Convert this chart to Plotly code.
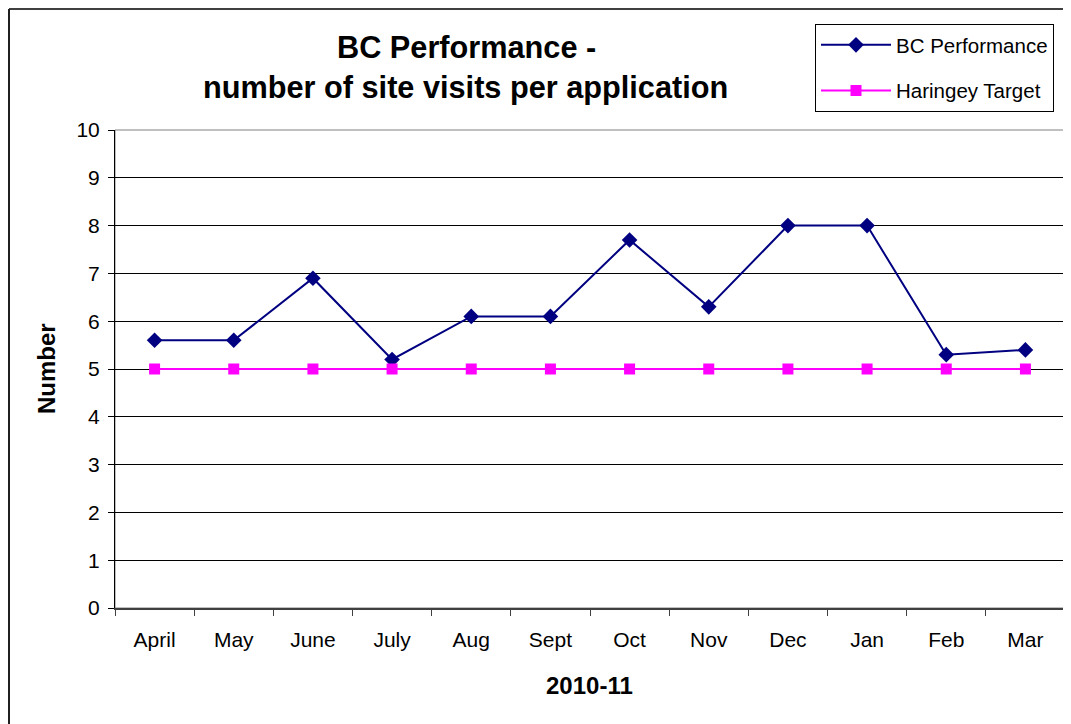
import plotly.graph_objects as go

months = ["April", "May", "June", "July", "Aug", "Sept", "Oct", "Nov", "Dec", "Jan", "Feb", "Mar"]
bc_performance = [5.6, 5.6, 6.9, 5.2, 6.1, 6.1, 7.7, 6.3, 8.0, 8.0, 5.3, 5.4]
haringey_target = [5, 5, 5, 5, 5, 5, 5, 5, 5, 5, 5, 5]
y_ticks = list(range(0, 11))

OFF = 8  # page body margin offset
W, H = 1071 - OFF, 724 - OFF
L, R, T, B = 115 - OFF, 1065 - OFF, 130 - OFF, 608 - OFF

def px_x(x):
    # x in reference page pixels
    return (x - OFF - L) / (R - L)

def px_y(y):
    return (B - (y - OFF)) / (B - T)

FONT = "Liberation Sans, Arial, sans-serif"

fig = go.Figure()
fig.add_trace(go.Scatter(
    x=months, y=bc_performance, name="BC Performance", mode="lines+markers",
    legendgroup="a",
    line=dict(color="#000080", width=2),
    marker=dict(symbol="diamond", size=12, color="#000080"),
))
fig.add_trace(go.Scatter(
    x=months, y=haringey_target, name="Haringey Target", mode="lines+markers",
    legendgroup="b",
    line=dict(color="#FF00FF", width=2),
    marker=dict(symbol="square", size=11, color="#FF00FF"),
))

shapes = [
    dict(type="rect", xref="paper", yref="paper", x0=0, x1=1, y0=0, y1=1,
         line=dict(color="#808080", width=1), layer="below"),
    dict(type="line", xref="paper", yref="paper", x0=px_x(9), x1=px_x(1080), y0=px_y(9), y1=px_y(9),
         line=dict(color="#404040", width=2)),
    dict(type="line", xref="paper", yref="paper", x0=px_x(9), x1=px_x(9), y0=px_y(9), y1=px_y(740),
         line=dict(color="#202020", width=2)),
]

annotations = [
    dict(text="<b>BC Performance -</b>", xref="paper", yref="paper", x=px_x(466), y=px_y(47),
         showarrow=False, xanchor="center", yanchor="middle", font=dict(family=FONT, size=30.7, color="black")),
    dict(text="<b>number of site visits per application</b>", xref="paper", yref="paper", x=px_x(465), y=px_y(87),
         showarrow=False, xanchor="center", yanchor="middle", font=dict(family=FONT, size=30.7, color="black")),
    dict(text="<b>2010-11</b>", xref="paper", yref="paper", x=px_x(589), y=px_y(685),
         showarrow=False, xanchor="center", yanchor="middle", font=dict(family=FONT, size=24, color="black")),
    dict(text="<b>Number</b>", xref="paper", yref="paper", x=px_x(46), y=px_y(369), textangle=-90,
         showarrow=False, xanchor="center", yanchor="middle", font=dict(family=FONT, size=24, color="black")),
]

fig.update_layout(
    width=W, height=H,
    margin=dict(l=L, r=W - R, t=T, b=H - B, pad=0),
    paper_bgcolor="white", plot_bgcolor="white",
    font=dict(family=FONT, size=21, color="black"),
    showlegend=True,
    legend=dict(
        x=px_x(815), y=px_y(24), xanchor="left", yanchor="top",
        bordercolor="black", borderwidth=1, bgcolor="white",
        font=dict(family=FONT, size=20.5, color="black"),
        itemwidth=70, tracegroupgap=16,
        entrywidth=240, entrywidthmode="pixels",
    ),
    shapes=shapes,
    annotations=annotations,
    xaxis=dict(
        type="category", categoryorder="array", categoryarray=months,
        range=[-0.5, 11.5], tickson="boundaries", ticks="outside", ticklen=6,
        tickcolor="#404040", showgrid=False, showline=True, linecolor="#404040", linewidth=2,
        tickfont=dict(family=FONT, size=21), zeroline=False, fixedrange=True,
        ticklabelstandoff=12,
    ),
    yaxis=dict(
        range=[0, 10], tickvals=y_ticks, ticks="outside", ticklen=6, tickcolor="black",
        showgrid=True, gridcolor="black", gridwidth=1, showline=True, linecolor="black", linewidth=1,
        tickfont=dict(family=FONT, size=21), zeroline=False, fixedrange=True,
        ticklabelstandoff=4,
    ),
)

fig.write_html("out.html")
